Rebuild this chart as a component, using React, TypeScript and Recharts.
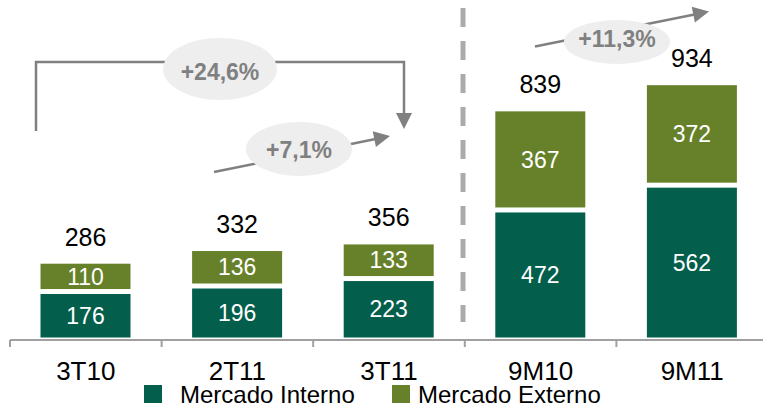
import { BarChart, Bar, XAxis, YAxis, LabelList } from 'recharts';

// Receita líquida por mercado (R$ milhões)
const categories = ['3T10', '2T11', '3T11', '9M10', '9M11'];
const mercadoInterno = [176, 196, 223, 472, 562];
const mercadoExterno = [110, 136, 133, 367, 372];
const totals = [286, 332, 356, 839, 934];

const seriesNames = ['Mercado Interno', 'Mercado Externo'];
const seriesColors = ['#035E4C', '#67812A'];

const W = 763;
const H = 405;
const CHART_W = 768;
const MARGIN = { top: 64.5, right: 0, bottom: 0, left: 10 };
const BAND = (CHART_W - MARGIN.left - MARGIN.right) / categories.length;
const FONT = '"Liberation Sans", Arial, sans-serif';
const GRAY = '#808080';

const data = categories.map((name, i) => ({
    name,
    interno: mercadoInterno[i],
    externo: mercadoExterno[i],
    total: totals[i],
}));

// bars get a white border in the original, so draw them inset a little
function InsetBar(props: any) {
    const { x, y, width, height, fill } = props;
    const g = 2.5;
    if (height <= 2 * g) return null;
    return <rect x={x + g} y={y + g} width={width - 2 * g} height={height - 2 * g} fill={fill} />;
}

function TotalLabel(props: any) {
    const { x, y, width, value } = props;
    return (
        <text x={x + width / 2} y={y - 15.5} textAnchor="middle" fontSize={25} fill="#000" fontFamily={FONT}>
            {value}
        </text>
    );
}

// tick marks sit between categories, label in the middle
function AxisTick(props: any) {
    const { x, y, payload } = props;
    const bx = x - BAND / 2;
    return (
        <g>
            <line x1={bx} x2={bx} y1={y} y2={y + 7} stroke="#A0A0A0" strokeWidth={2} />
            <text x={x} y={y + 40} textAnchor="middle" fontSize={26} fill="#000" fontFamily={FONT}>
                {payload.value}
            </text>
        </g>
    );
}

function arrowHead(x1: number, y1: number, x2: number, y2: number, len = 16, half = 8) {
    const dx = x2 - x1;
    const dy = y2 - y1;
    const d = Math.hypot(dx, dy);
    const ux = dx / d;
    const uy = dy / d;
    const bx = x2 - ux * len;
    const by = y2 - uy * len;
    return `${x2},${y2} ${bx - uy * half},${by + ux * half} ${bx + uy * half},${by - ux * half}`;
}

function Bubble({ cx, cy, rx, ry, text, base }: { cx: number; cy: number; rx: number; ry: number; text: string; base: number }) {
    return (
        <g>
            <ellipse cx={cx} cy={cy} rx={rx} ry={ry} fill="#EEEEEE" />
            <text x={cx} y={base} textAnchor="middle" fontSize={23} fontWeight="bold" fill={GRAY} fontFamily={FONT}>
                {text}
            </text>
        </g>
    );
}

function Annotations() {
    return (
        <svg width={W} height={H} style={{ position: 'absolute', left: 0, top: 0, pointerEvents: 'none' }}>
            {/* divider between quarters and 9 months */}
            <line x1={463} x2={463} y1={8} y2={322} stroke="#ABABAB" strokeWidth={5} strokeDasharray="19 14" />

            {/* 3T10 -> 3T11 */}
            <polyline points="36,131 36,62 404,62 404,114" fill="none" stroke={GRAY} strokeWidth={2.5} />
            <polygon points={arrowHead(404, 62, 404, 129)} fill={GRAY} />
            <Bubble cx={220} cy={69} rx={57} ry={31} text="+24,6%" base={80} />

            {/* 2T11 -> 3T11 */}
            <line x1={214} y1={172} x2={378} y2={138.5} stroke={GRAY} strokeWidth={2.5} />
            <polygon points={arrowHead(214, 172, 390, 136)} fill={GRAY} />
            <Bubble cx={299} cy={149} rx={53} ry={27} text="+7,1%" base={158} />

            {/* 9M10 -> 9M11 */}
            <line x1={535} y1={46.5} x2={697} y2={14} stroke={GRAY} strokeWidth={2.5} />
            <polygon points={arrowHead(535, 46.5, 709, 11.5)} fill={GRAY} />
            <Bubble cx={617} cy={42} rx={53} ry={22} text="+11,3%" base={47} />

            {/* legend */}
            <rect x={144} y={385} width={18} height={18} fill={seriesColors[0]} />
            <text x={180} y={403} fontSize={24} fill="#000" fontFamily={FONT}>{seriesNames[0]}</text>
            <rect x={392} y={385} width={18} height={18} fill={seriesColors[1]} />
            <text x={418} y={403} fontSize={24} fill="#000" fontFamily={FONT}>{seriesNames[1]}</text>
        </svg>
    );
}

export default function App() {
    return (
        <div style={{ position: 'absolute', left: 0, top: 0, width: W, height: H, overflow: 'hidden', background: '#fff' }}>
            <BarChart width={CHART_W} height={H} data={data} margin={MARGIN}>
                <XAxis
                    dataKey="name"
                    height={65}
                    axisLine={{ stroke: '#A0A0A0', strokeWidth: 2 }}
                    tickLine={false}
                    tickSize={0}
                    tickMargin={0}
                    interval={0}
                    tick={<AxisTick />}
                />
                <YAxis hide domain={[0, 1000]} />
                <Bar dataKey="interno" name={seriesNames[0]} stackId="a" fill={seriesColors[0]} barSize={95} shape={<InsetBar />} isAnimationActive={false}>
                    <LabelList dataKey="interno" position="center" fill="#fff" fontSize={23} fontFamily={FONT} />
                </Bar>
                <Bar dataKey="externo" name={seriesNames[1]} stackId="a" fill={seriesColors[1]} barSize={95} shape={<InsetBar />} isAnimationActive={false}>
                    <LabelList dataKey="externo" position="center" fill="#fff" fontSize={23} fontFamily={FONT} />
                    <LabelList dataKey="total" content={<TotalLabel />} />
                </Bar>
            </BarChart>
            <Annotations />
        </div>
    );
}
